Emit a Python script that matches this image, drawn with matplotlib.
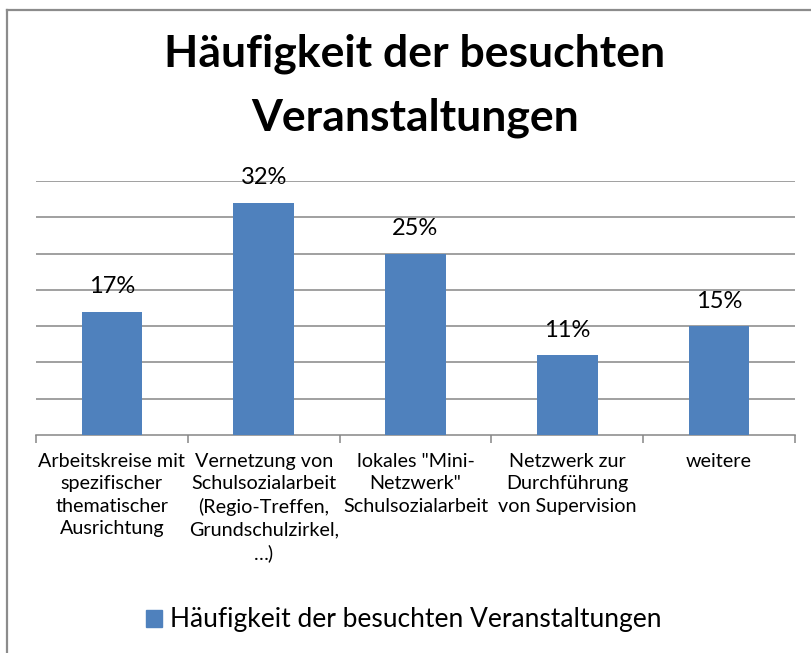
import matplotlib
matplotlib.use("Agg")
import matplotlib.pyplot as plt
from matplotlib.lines import Line2D
from matplotlib.patches import Patch

categories = [
    "Arbeitskreise mit\nspezifischer\nthematischer\nAusrichtung",
    "Vernetzung von\nSchulsozialarbeit\n(Regio-Treffen,\nGrundschulzirkel,\n…)",
    "lokales \"Mini-\nNetzwerk\"\nSchulsozialarbeit",
    "Netzwerk zur\nDurchführung\nvon Supervision",
    "weitere",
]
values = [17, 32, 25, 11, 15]
value_labels = ["17%", "32%", "25%", "11%", "15%"]
series_name = "Häufigkeit der besuchten Veranstaltungen"
title = "Häufigkeit der besuchten\nVeranstaltungen"

plt.rcParams['font.family'] = ['Lato', 'DejaVu Sans']

W, H = 812, 653
fig = plt.figure(figsize=(W / 100, H / 100), dpi=100)
fig.patch.set_facecolor("white")

ax = fig.add_axes([36 / W, 1 - 435 / H, (795 - 36) / W, (435 - 181) / H])
x = list(range(len(values)))
bar_color = "#4F81BD"
ax.bar(x, values, width=0.4, color=bar_color, zorder=3)
ax.set_xlim(-0.5, len(values) - 0.5)
ax.set_ylim(0, 35)

for yy in range(5, 36, 5):
    ax.axhline(yy, color="#868686", lw=1.1, zorder=1)

for xi, v, lab in zip(x, values, value_labels):
    ax.text(xi, v + 2.0, lab, ha="center", va="bottom", fontsize=17, color="black", zorder=4)

for s in ["left", "right", "top"]:
    ax.spines[s].set_visible(False)
ax.spines["bottom"].set_color("#868686")
ax.spines["bottom"].set_linewidth(1.1)
ax.set_yticks([])

ax.set_xticks([i - 0.5 for i in range(len(values) + 1)], minor=False)
ax.set_xticklabels([])
ax.tick_params(axis="x", which="major", direction="out", length=6, color="#868686", width=1.1)
ax.set_xticks(x, minor=True)
ax.set_xticklabels(categories, minor=True, fontsize=14.2, linespacing=1.38)
ax.tick_params(axis="x", which="minor", length=0, pad=13)

fig.text(415 / W, 1 - 86 / H, title, ha="center", va="center", fontsize=32,
         fontweight="bold", linespacing=1.72)

leg = fig.legend(handles=[Patch(color=bar_color, label=series_name)],
                 loc="center", bbox_to_anchor=(404 / W, 1 - 620 / H), frameon=False,
                 fontsize=19, handlelength=0.6, handleheight=0.6, handletextpad=0.3)

fig.add_artist(Line2D([7 / W, 7 / W], [0, 1 - 10 / H], color="#8c8c8c", lw=1.6))
fig.add_artist(Line2D([7 / W, 1], [1 - 10 / H, 1 - 10 / H], color="#8c8c8c", lw=1.6))

fig.savefig("out.png", dpi=100)
